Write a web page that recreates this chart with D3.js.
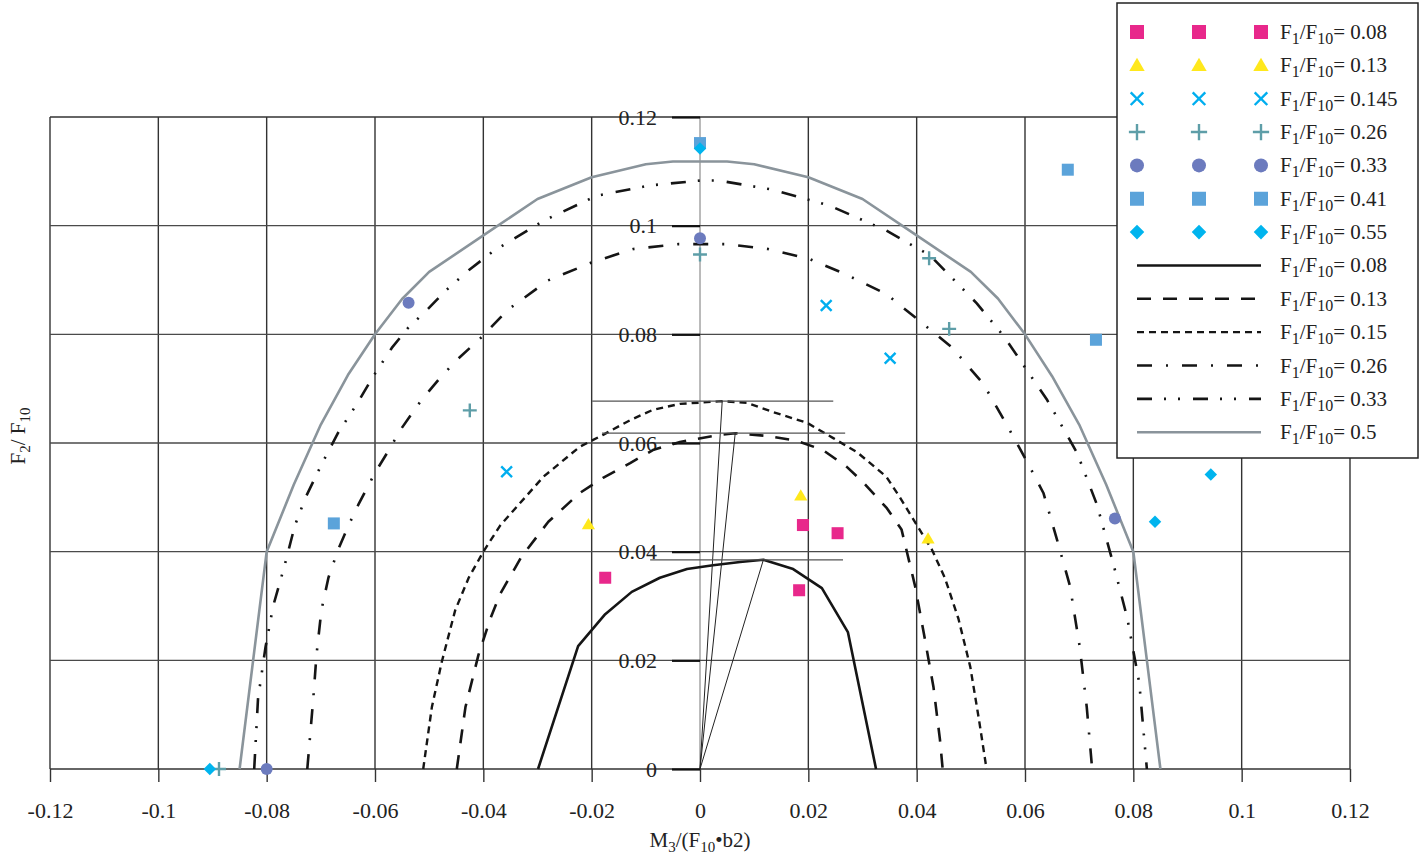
<!DOCTYPE html>
<html><head><meta charset="utf-8">
<script src="https://cdn.jsdelivr.net/npm/d3@7/dist/d3.min.js"></script>
<style>
html,body{margin:0;padding:0;background:#fff;}
svg{display:block;font-family:"Liberation Serif","DejaVu Serif",serif;}
</style></head>
<body>
<svg id="chart" width="1420" height="855"></svg>
<script>
// ---------- data ----------
const xTicks = [-0.12,-0.1,-0.08,-0.06,-0.04,-0.02,0,0.02,0.04,0.06,0.08,0.1,0.12];
const xTickLabels = ["-0.12","-0.1","-0.08","-0.06","-0.04","-0.02","0","0.02","0.04","0.06","0.08","0.1","0.12"];
const yTicks = [0,0.02,0.04,0.06,0.08,0.1,0.12];
const yTickLabels = ["0","0.02","0.04","0.06","0.08","0.1","0.12"];

// curves (M3/(F10*b2), F2/F10)
const curve008 = [[-0.0299,0],[-0.0225,0.0226],[-0.0175,0.0285],[-0.0126,0.0326],[-0.0074,0.0352],[-0.0024,0.0368],[0.0024,0.0375],[0.0074,0.0381],[0.0117,0.0385],[0.0172,0.0368],[0.0225,0.0333],[0.0273,0.0252],[0.0325,0]];
const curve013 = [[-0.0449,0],[-0.0433,0.0114],[-0.0409,0.021],[-0.0387,0.0277],[-0.0369,0.0322],[-0.033,0.039],[-0.028,0.0455],[-0.0222,0.0508],[-0.0179,0.0536],[-0.0129,0.0563],[-0.0087,0.0587],[-0.0037,0.0602],[0.0037,0.0615],[0.0065,0.0618],[0.0124,0.0613],[0.0179,0.0604],[0.0227,0.0587],[0.0271,0.0556],[0.0299,0.053],[0.0345,0.048],[0.0372,0.0441],[0.0397,0.0337],[0.0415,0.024],[0.0431,0.0151],[0.0443,0.0054],[0.0448,0]];
const curve015 = [[-0.0511,0],[-0.0495,0.0114],[-0.0477,0.0196],[-0.0452,0.0292],[-0.0427,0.0352],[-0.04,0.04],[-0.0369,0.0448],[-0.0289,0.0538],[-0.0222,0.0593],[-0.0179,0.0615],[-0.0129,0.0642],[-0.0087,0.0661],[-0.0037,0.0672],[0.0041,0.0677],[0.0087,0.0674],[0.0135,0.0657],[0.0198,0.0637],[0.0246,0.0609],[0.029,0.0583],[0.0344,0.0538],[0.0369,0.05],[0.0428,0.0404],[0.0452,0.0352],[0.0477,0.0277],[0.0499,0.0188],[0.0515,0.0091],[0.0529,0]];
const curve026 = [[-0.0725,0],[-0.0714,0.0129],[-0.0708,0.021],[-0.0699,0.0292],[-0.0686,0.0352],[-0.0668,0.0404],[-0.0649,0.0448],[-0.0631,0.0486],[-0.06,0.0545],[-0.0575,0.0586],[-0.0551,0.0627],[-0.0515,0.0678],[-0.0483,0.0716],[-0.0452,0.075],[-0.0402,0.0796],[-0.0355,0.0845],[-0.0281,0.0899],[-0.0198,0.0933],[-0.0123,0.0957],[-0.004,0.0966],[0.005,0.0966],[0.0126,0.0957],[0.0201,0.0939],[0.0268,0.0911],[0.0344,0.0874],[0.0405,0.0825],[0.0465,0.0776],[0.0523,0.0709],[0.0566,0.0634],[0.0603,0.0567],[0.0634,0.0508],[0.0658,0.0426],[0.0683,0.0337],[0.0701,0.0225],[0.0714,0.0114],[0.0724,0]];
const curve033 = [[-0.0823,0],[-0.0816,0.0129],[-0.0802,0.0225],[-0.0788,0.03],[-0.0767,0.0374],[-0.0748,0.0448],[-0.0728,0.05],[-0.0699,0.056],[-0.0668,0.0619],[-0.0634,0.0671],[-0.0603,0.0723],[-0.0569,0.0775],[-0.0538,0.0813],[-0.0507,0.0842],[-0.047,0.088],[-0.0427,0.0918],[-0.0383,0.0952],[-0.0289,0.1009],[-0.0191,0.1055],[-0.0093,0.1074],[0,0.1083],[0.0035,0.1083],[0.013,0.1067],[0.0239,0.1037],[0.0344,0.0991],[0.0425,0.0945],[0.0511,0.0857],[0.0562,0.0795],[0.0641,0.0679],[0.0696,0.0582],[0.0733,0.0486],[0.0764,0.0374],[0.0789,0.0277],[0.0811,0.0158],[0.0825,0]];
const curve05 = [[-0.085,0],[-0.08,0.04],[-0.075,0.0523],[-0.07,0.0634],[-0.065,0.0725],[-0.06,0.08],[-0.055,0.0865],[-0.05,0.0915],[-0.04,0.0982],[-0.03,0.1049],[-0.02,0.1089],[-0.01,0.1113],[-0.005,0.1118],[0.005,0.1118],[0.01,0.1113],[0.02,0.1089],[0.03,0.1049],[0.04,0.0982],[0.05,0.0915],[0.055,0.0866],[0.06,0.08],[0.065,0.0723],[0.07,0.0634],[0.075,0.0523],[0.08,0.04],[0.085,0]];

// peak reference lines
const peakLevels = [0.0677, 0.0618, 0.0385];
const peakX = [0.0041, 0.0065, 0.0117];
const peakSpanLeft = [-0.0199, -0.0181, -0.0092];
const peakSpanRight = [0.0246, 0.0268, 0.0264];

// measured points
const pts008 = [[-0.0175,0.0352],[0.0183,0.0329],[0.019,0.0449],[0.0254,0.0434]];
const pts013 = [[-0.0206,0.045],[0.0186,0.0503],[0.0421,0.0424]];
const pts0145 = [[-0.0357,0.0547],[0.0233,0.0853],[0.0351,0.0756]];
const pts026 = [[-0.0888,0],[-0.0425,0.066],[0,0.0947],[0.0423,0.094],[0.046,0.081]];
const pts033 = [[-0.08,0],[-0.0538,0.0858],[0,0.0977],[0.0766,0.0461]];
const pts041 = [[-0.0676,0.0452],[0,0.1152],[0.0679,0.1103],[0.0731,0.079]];
const pts055 = [[-0.0905,0],[0,0.1142],[0.084,0.0455],[0.0943,0.0542]];

const markerLabels = ["0.08","0.13","0.145","0.26","0.33","0.41","0.55"];
const lineLabels = ["0.08","0.13","0.15","0.26","0.33","0.5"];

// ---------- styles ----------
const markerStyles = [
  {type:"square", color:"#E8288B", data:pts008},
  {type:"triangle", color:"#FFE81C", data:pts013},
  {type:"x", color:"#00AEEF", data:pts0145},
  {type:"plus", color:"#5E9EA8", data:pts026},
  {type:"circle", color:"#6C7BBE", data:pts033},
  {type:"square", color:"#5BA3DA", data:pts041},
  {type:"diamond", color:"#00B4EE", data:pts055}
];
const lineStyles = [
  {data:curve008, color:"#151515", w:2.6, dash:null},
  {data:curve013, color:"#151515", w:2.6, dash:"14,12"},
  {data:curve015, color:"#151515", w:2.4, dash:"7,5"},
  {data:curve026, color:"#151515", w:2.6, dash:"15,14,2,14"},
  {data:curve033, color:"#151515", w:2.6, dash:"15,12,2,12,2,13"},
  {data:curve05, color:"#8A949B", w:2.6, dash:null}
];

// ---------- chart ----------
const svg = d3.select("#chart");
const x = d3.scaleLinear().domain([-0.12,0.12]).range([50,1350]);
const y = d3.scaleLinear().domain([0,0.12]).range([769,117]);
const gridColor = "#333";

// grid
const grid = svg.append("g");
grid.selectAll("line.v").data(xTicks).join("line")
  .attr("x1",d=>x(d)).attr("x2",d=>x(d))
  .attr("y1",y(0)).attr("y2",y(0.12))
  .attr("stroke",d=>d===0?"#777":gridColor).attr("stroke-width",d=>d===0?1:1.4);
grid.selectAll("line.h").data(yTicks).join("line")
  .attr("x1",x(-0.12)).attr("x2",x(0.12))
  .attr("y1",d=>y(d)).attr("y2",d=>y(d))
  .attr("stroke",d=>(d===0||d===0.12)?gridColor:"#4a4a4a").attr("stroke-width",1.4);

// x axis (ticks + labels)
const xAxis = d3.axisBottom(x).tickValues(xTicks)
  .tickFormat((d,i)=>xTickLabels[i]).tickSize(13).tickPadding(20);
const gx = svg.append("g").attr("transform",`translate(0,${y(0)})`).call(xAxis);
gx.select(".domain").remove();
gx.selectAll(".tick line").attr("stroke",gridColor).attr("stroke-width",1.4);
gx.selectAll(".tick text").attr("font-size",22).attr("fill","#222")
  .attr("font-family","Liberation Serif, serif");

// y axis at x=0
const yAxis = d3.axisLeft(y).tickValues(yTicks)
  .tickFormat((d,i)=>yTickLabels[i]).tickSize(28).tickPadding(15);
const gy = svg.append("g").attr("transform",`translate(${x(0)},0)`).call(yAxis);
gy.select(".domain").remove();
gy.selectAll(".tick line").attr("stroke","#111").attr("stroke-width",2.2);
gy.selectAll(".tick text").attr("font-size",22).attr("fill","#222")
  .attr("font-family","Liberation Serif, serif");

// curves
const line = d3.line().x(d=>x(d[0])).y(d=>y(d[1]));
const curves = svg.append("g");
lineStyles.forEach(s=>{
  curves.append("path").attr("d",line(s.data)).attr("fill","none")
    .attr("stroke",s.color).attr("stroke-width",s.w)
    .attr("stroke-dasharray",s.dash).attr("stroke-linejoin","round");
});

// peak lines
const peaks = svg.append("g");
peakLevels.forEach((lv,i)=>{
  peaks.append("line").attr("x1",x(peakSpanLeft[i])).attr("x2",x(peakSpanRight[i]))
    .attr("y1",y(lv)).attr("y2",y(lv)).attr("stroke","#555").attr("stroke-width",1.3);
  peaks.append("line").attr("x1",x(0)).attr("y1",y(0))
    .attr("x2",x(peakX[i])).attr("y2",y(lv)).attr("stroke","#222").attr("stroke-width",1);
});

// markers
function drawMarker(g, type, color, s){
  if(type==="square"){
    g.append("rect").attr("x",-s/2).attr("y",-s/2).attr("width",s).attr("height",s).attr("fill",color);
  } else if(type==="triangle"){
    const h=s*0.9;
    g.append("path").attr("d",`M0,${-h*0.6}L${s*0.55},${h*0.45}L${-s*0.55},${h*0.45}Z`).attr("fill",color);
  } else if(type==="circle"){
    g.append("circle").attr("r",s/2).attr("fill",color);
  } else if(type==="diamond"){
    const r=s*0.52;
    g.append("path").attr("d",`M0,${-r}L${r},0L0,${r}L${-r},0Z`).attr("fill",color);
  } else if(type==="x"){
    const r=s*0.45;
    g.append("path").attr("d",`M${-r},${-r}L${r},${r}M${r},${-r}L${-r},${r}`)
      .attr("stroke",color).attr("stroke-width",2.4).attr("fill","none");
  } else if(type==="plus"){
    const r=s*0.58;
    g.append("path").attr("d",`M${-r},0L${r},0M0,${-r}L0,${r}`)
      .attr("stroke",color).attr("stroke-width",2.4).attr("fill","none");
  }
}
const marks = svg.append("g");
markerStyles.forEach(ms=>{
  ms.data.forEach(p=>{
    const g = marks.append("g").attr("transform",`translate(${x(p[0])},${y(p[1])})`);
    drawMarker(g, ms.type, ms.color, 12);
  });
});

// axis titles
const xt = svg.append("text").attr("x",x(0)).attr("y",847).attr("text-anchor","middle")
  .attr("font-size",21).attr("fill","#222");
xt.append("tspan").text("M");
xt.append("tspan").text("3").attr("font-size",15).attr("dy",5);
xt.append("tspan").text("/(F").attr("dy",-5);
xt.append("tspan").text("10").attr("font-size",15).attr("dy",5);
xt.append("tspan").text("•b2)").attr("dy",-5);

const yt = svg.append("text").attr("transform",`translate(25,436) rotate(-90)`)
  .attr("text-anchor","middle").attr("font-size",21).attr("fill","#222");
yt.append("tspan").text("F");
yt.append("tspan").text("2").attr("font-size",15).attr("dy",5);
yt.append("tspan").text("/ F").attr("dy",-5);
yt.append("tspan").text("10").attr("font-size",15).attr("dy",5);

// legend
const lg = svg.append("g");
lg.append("rect").attr("x",1117).attr("y",3).attr("width",301).attr("height",455)
  .attr("fill","#fff").attr("stroke","#222").attr("stroke-width",1.5);
const rowY = i => 32 + i*33.35;
const markerCols = [1137,1199,1261];
function legendLabel(yy, val){
  const t = lg.append("text").attr("x",1280).attr("y",yy+7).attr("font-size",21).attr("fill","#222");
  t.append("tspan").text("F");
  t.append("tspan").text("1").attr("font-size",16).attr("dy",5);
  t.append("tspan").text("/F").attr("dy",-5);
  t.append("tspan").text("10").attr("font-size",16).attr("dy",5);
  t.append("tspan").text("= "+val).attr("dy",-5);
}
markerStyles.forEach((ms,i)=>{
  markerCols.forEach(cx=>{
    const g = lg.append("g").attr("transform",`translate(${cx},${rowY(i)})`);
    drawMarker(g, ms.type, ms.color, 14);
  });
  legendLabel(rowY(i), markerLabels[i]);
});
lineStyles.forEach((s,j)=>{
  const i = j + markerStyles.length;
  lg.append("line").attr("x1",1137).attr("x2",1261).attr("y1",rowY(i)).attr("y2",rowY(i))
    .attr("stroke",s.color).attr("stroke-width",s.w).attr("stroke-dasharray",s.dash);
  legendLabel(rowY(i), lineLabels[j]);
});
</script>
</body></html>
